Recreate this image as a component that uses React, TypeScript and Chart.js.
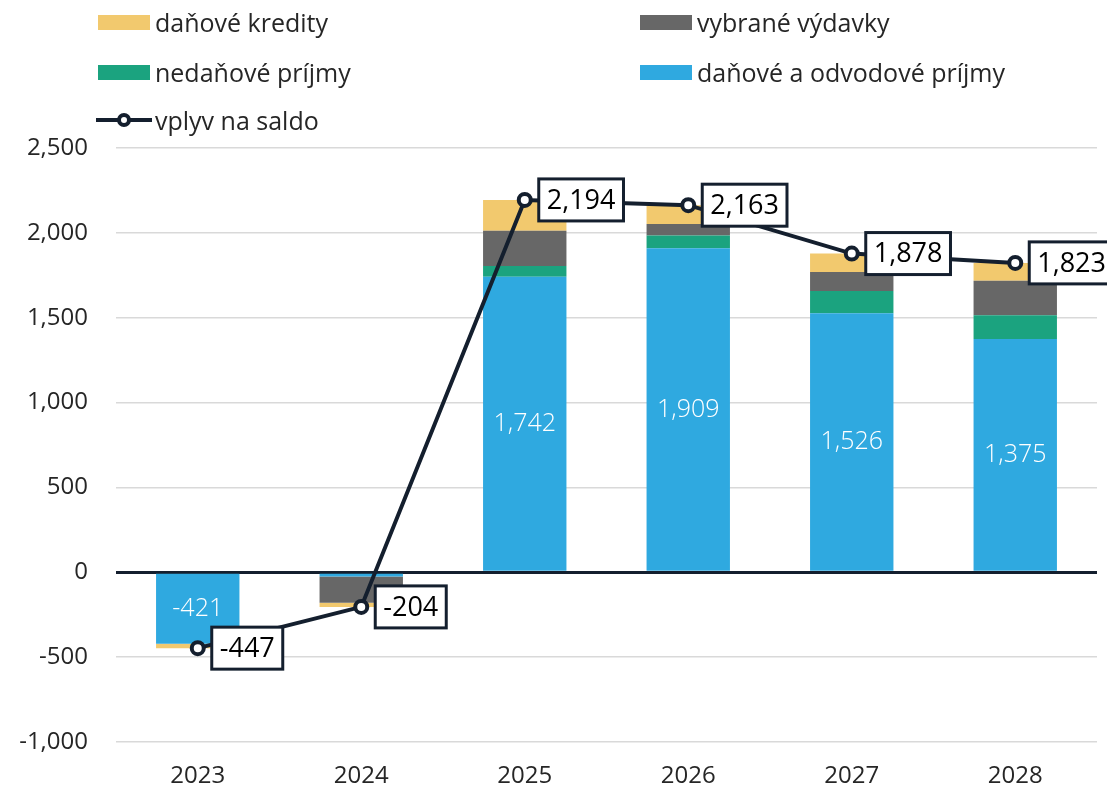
import React, { useEffect, useRef } from "react";
import { Chart, registerables } from "chart.js";

Chart.register(...registerables);

const years = ["2023", "2024", "2025", "2026", "2027", "2028"];
const danoveAOdvodovePrijmy = [-421, -25, 1742, 1909, 1526, 1375];
const nedanovePrijmy = [0, 0, 62, 76, 131, 140];
const vybraneVydavky = [0, -155, 208, 67, 112, 203];
const danoveKredity = [-26, -24, 182, 111, 109, 105];
const vplyvNaSaldo = [-447, -204, 2194, 2163, 1878, 1823];
const yTickValues = [-1000, -500, 0, 500, 1000, 1500, 2000, 2500];

const COLORS = {
  yellow: "#F2C96E",
  gray: "#676767",
  green: "#1BA37F",
  blue: "#2FA9E0",
  navy: "#141F2E",
  grid: "#D9D9D9",
  text: "#262626",
};

const FONT = '"Open Sans", sans-serif';

const fmt = (v: number) => v.toLocaleString("en-US");

const labelPlugin = {
  id: "customLabels",
  afterDatasetsDraw(chart: any) {
    const ctx = chart.ctx;
    ctx.save();
    const blueMeta = chart.getDatasetMeta(0);
    ctx.font = `300 25px ${FONT}`;
    ctx.fillStyle = "#FFFFFF";
    ctx.textAlign = "center";
    ctx.textBaseline = "middle";
    blueMeta.data.forEach((el: any, i: number) => {
      const v = danoveAOdvodovePrijmy[i];
      if (Math.abs(v) < 100) return;
      ctx.fillText(fmt(v), el.x, (el.y + el.base) / 2);
    });
    const lineMeta = chart.getDatasetMeta(4);
    ctx.font = `400 27px ${FONT}`;
    lineMeta.data.forEach((el: any, i: number) => {
      const text = fmt(vplyvNaSaldo[i]);
      const tw = ctx.measureText(text).width;
      const w = tw + 16;
      const h = 42;
      const x = el.x + 14;
      const y = el.y - h / 2;
      ctx.fillStyle = "#FFFFFF";
      ctx.fillRect(x, y, w, h);
      ctx.lineWidth = 3;
      ctx.strokeStyle = COLORS.navy;
      ctx.strokeRect(x, y, w, h);
      ctx.fillStyle = "#000000";
      ctx.textAlign = "center";
      ctx.textBaseline = "middle";
      ctx.fillText(text, x + w / 2, el.y + 1);
    });
    ctx.restore();
  },
};

const legendItems = [
  { label: "daňové kredity", color: COLORS.yellow, left: 98, top: 22 },
  { label: "vybrané výdavky", color: COLORS.gray, left: 640, top: 22 },
  { label: "nedaňové príjmy", color: COLORS.green, left: 98, top: 72 },
  { label: "daňové a odvodové príjmy", color: COLORS.blue, left: 640, top: 72 },
];

export default function App() {
  const canvasRef = useRef<HTMLCanvasElement | null>(null);

  useEffect(() => {
    if (!canvasRef.current) return;
    const chart = new Chart(canvasRef.current, {
      type: "bar",
      data: {
        labels: years,
        datasets: [
          { label: "daňové a odvodové príjmy", data: danoveAOdvodovePrijmy, backgroundColor: COLORS.blue, stack: "s", order: 1 },
          { label: "nedaňové príjmy", data: nedanovePrijmy, backgroundColor: COLORS.green, stack: "s", order: 1 },
          { label: "vybrané výdavky", data: vybraneVydavky, backgroundColor: COLORS.gray, stack: "s", order: 1 },
          { label: "daňové kredity", data: danoveKredity, backgroundColor: COLORS.yellow, stack: "s", order: 1 },
          {
            type: "line",
            label: "vplyv na saldo",
            data: vplyvNaSaldo,
            borderColor: COLORS.navy,
            borderWidth: 4,
            pointRadius: 6,
            pointBorderWidth: 4,
            pointBackgroundColor: "#FFFFFF",
            pointBorderColor: COLORS.navy,
            tension: 0,
            order: 0,
          } as any,
        ],
      },
      options: {
        animation: false,
        responsive: false,
        devicePixelRatio: 1,
        layout: { padding: { top: 148, right: 9, left: 0, bottom: 0 } },
        plugins: {
          legend: { display: false },
          tooltip: { enabled: false },
        },
        datasets: {
          bar: { barPercentage: 0.51, categoryPercentage: 1 },
        },
        scales: {
          x: {
            stacked: true,
            grid: { display: false, drawTicks: false },
            border: { display: false },
            ticks: {
              color: COLORS.text,
              font: { family: FONT, size: 24, weight: "400" as any },
              padding: 20,
            },
            afterFit: (scale: any) => {
              scale.height = 50;
            },
          },
          y: {
            stacked: true,
            min: -1000,
            max: 2500,
            afterBuildTicks: (scale: any) => {
              scale.ticks = yTickValues.map((v) => ({ value: v }));
            },
            grid: {
              drawTicks: false,
              color: (c: any) => (c.tick && c.tick.value === 0 ? COLORS.navy : COLORS.grid),
              lineWidth: (c: any) => (c.tick && c.tick.value === 0 ? 3 : 1.5),
            },
            border: { display: false },
            ticks: {
              color: COLORS.text,
              font: { family: FONT, size: 24, weight: "400" as any },
              padding: 28,
              callback: (v: any) => fmt(Number(v)),
            },
            afterFit: (scale: any) => {
              scale.width = 116;
            },
          },
        },
      },
      plugins: [labelPlugin],
    });
    return () => chart.destroy();
  }, []);

  const textStyle: React.CSSProperties = {
    position: "absolute",
    height: 30,
    display: "flex",
    alignItems: "center",
    fontSize: 25,
    fontWeight: 400,
    color: COLORS.text,
    whiteSpace: "nowrap",
  };

  return (
    <div
      style={{
        position: "absolute",
        left: 0,
        top: 0,
        width: 1107,
        height: 792,
        background: "#FFFFFF",
        fontFamily: FONT,
      }}
    >
      <canvas ref={canvasRef} width={1107} height={792} style={{ position: "absolute", left: 0, top: 0 }} />
      {legendItems.map((it) => (
        <div key={it.label} style={{ ...textStyle, left: it.left, top: it.top - 15 }}>
          <span style={{ display: "inline-block", width: 52, height: 15, background: it.color, marginRight: 5 }} />
          <span>{it.label}</span>
        </div>
      ))}
      <div style={{ ...textStyle, left: 96, top: 120 - 15 }}>
        <span style={{ position: "relative", display: "inline-block", width: 56, height: 30, marginRight: 3 }}>
          <span style={{ position: "absolute", left: 0, top: 13, width: 56, height: 4, background: COLORS.navy }} />
          <span
            style={{
              position: "absolute",
              left: 21,
              top: 8,
              width: 6,
              height: 6,
              borderRadius: "50%",
              border: `4px solid ${COLORS.navy}`,
              background: "#FFFFFF",
            }}
          />
        </span>
        <span>vplyv na saldo</span>
      </div>
    </div>
  );
}
